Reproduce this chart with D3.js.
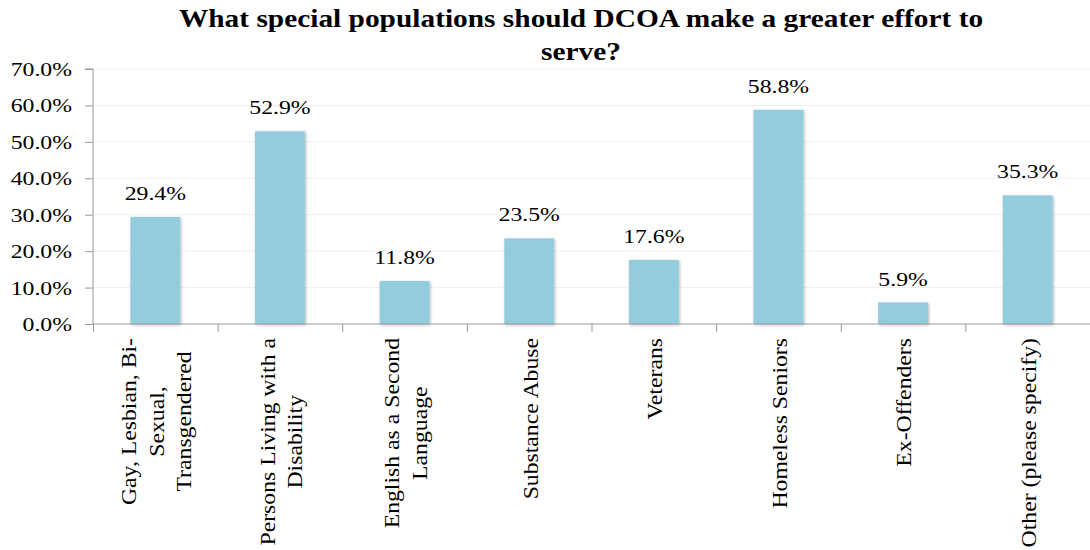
<!DOCTYPE html>
<html>
<head>
<meta charset="utf-8">
<script src="https://cdn.jsdelivr.net/npm/d3@7/dist/d3.min.js"></script>
<style>
  html, body { margin: 0; padding: 0; background: #fff; }
  svg { display: block; }
  text { font-family: "Liberation Serif", "Times New Roman", serif; fill: #000; }
</style>
</head>
<body>
<svg id="chart" width="1090" height="550"></svg>
<script>
const titleLines = ["What special populations should DCOA make a greater effort to", "serve?"];
const categories = [
  ["Gay, Lesbian, Bi-", "Sexual,", "Transgendered"],
  ["Persons Living with a", "Disability"],
  ["English as a Second", "Language"],
  ["Substance Abuse"],
  ["Veterans"],
  ["Homeless Seniors"],
  ["Ex-Offenders"],
  ["Other (please specify)"]
];
const values = [29.4, 52.9, 11.8, 23.5, 17.6, 58.8, 5.9, 35.3];
const yTicks = [0, 10, 20, 30, 40, 50, 60, 70];

const W = 1090, H = 550;
const margin = { left: 93, right: 0, top: 69, bottom: 226 };
const svg = d3.select("#chart");

const x = d3.scaleBand()
  .domain(d3.range(categories.length))
  .range([margin.left, W - margin.right])
  .paddingInner(0.6).paddingOuter(0.3);
const xTickScale = d3.scaleLinear().domain([0, categories.length]).range([margin.left, W - margin.right]);
const y = d3.scaleLinear().domain([0, 70]).range([H - margin.bottom, margin.top]);

const defs = svg.append("defs");
const f = defs.append("filter").attr("id", "shadow").attr("x", "-20%").attr("y", "-20%").attr("width", "150%").attr("height", "150%");
f.append("feGaussianBlur").attr("in", "SourceAlpha").attr("stdDeviation", 1.5).attr("result", "b");
f.append("feOffset").attr("in", "b").attr("dx", 0.8).attr("dy", 0.8).attr("result", "o");
f.append("feComponentTransfer").attr("in", "o").attr("result", "s")
  .append("feFuncA").attr("type", "linear").attr("slope", 0.3);
const m = f.append("feMerge");
m.append("feMergeNode").attr("in", "s");
m.append("feMergeNode").attr("in", "SourceGraphic");

// gridlines
svg.append("g").selectAll("line").data(yTicks.filter(d => d > 0)).join("line")
  .attr("x1", margin.left).attr("x2", W - margin.right)
  .attr("y1", d => y(d)).attr("y2", d => y(d))
  .attr("stroke", "#efefef").attr("stroke-width", 1);

// bars
svg.append("g").selectAll("rect").data(values).join("rect")
  .attr("x", (d, i) => x(i)).attr("width", x.bandwidth())
  .attr("y", d => y(d)).attr("height", d => y(0) - y(d))
  .attr("fill", "#93cddd").attr("filter", "url(#shadow)");

// y axis
const yAxis = d3.axisLeft(y).tickValues(yTicks).tickSize(8).tickPadding(0).tickFormat(d => d.toFixed(1) + "%");
const yg = svg.append("g").attr("transform", `translate(${margin.left},0)`).call(yAxis);
yg.select(".domain").attr("stroke", "#999").attr("d", `M-8,${y(70)}H0V${y(0)}`);
yg.selectAll(".tick line").attr("stroke", "#999");
yg.selectAll(".tick text").remove();
yg.selectAll(".tick").append("g").attr("transform", "translate(-21,6.5) scale(1.25,1)")
  .append("text").attr("text-anchor", "end").style("font-size", "19px")
  .text(d => d.toFixed(1) + "%");

// x axis
const xAxis = d3.axisBottom(xTickScale).tickValues(d3.range(categories.length + 1)).tickSize(8).tickFormat("");
const xg = svg.append("g").attr("transform", `translate(0,${y(0)})`).call(xAxis);
xg.select(".domain").attr("stroke", "#999").attr("d", `M${margin.left},0H${W}`);
xg.selectAll(".tick line").attr("stroke", "#999");

// value labels
svg.append("g").selectAll("g").data(values).join("g")
  .attr("transform", (d, i) => `translate(${x(i) + x.bandwidth() / 2},${y(d) - 17}) scale(1.25,1)`)
  .append("text").attr("text-anchor", "middle").style("font-size", "19px")
  .text(d => d.toFixed(1) + "%");

// category labels
const catFs = 21, catScale = 1.13, lh = 27.5, labTop = 338;
categories.forEach((lines, i) => {
  const cx = x(i) + x.bandwidth() / 2 + 1;
  const g = svg.append("g").attr("transform", `translate(${cx},${labTop}) rotate(-90) scale(${catScale},1)`);
  const t = g.append("text").attr("text-anchor", "middle").style("font-size", catFs + "px");
  const b0 = 0.35 * catFs - (lines.length - 1) / 2 * lh;
  const spans = lines.map((l, j) => t.append("tspan").attr("y", b0 + j * lh).text(l));
  const maxLen = d3.max(spans, s => s.node().getComputedTextLength());
  spans.forEach(s => s.attr("x", -maxLen / 2));
});

// title
const tg = svg.append("g").attr("transform", "translate(581,0)");
titleLines.forEach((l, j) => {
  tg.append("g").attr("transform", `translate(0,${27 + j * 33}) scale(1.13,1)`)
    .append("text").attr("text-anchor", "middle")
    .style("font-size", "26px").style("font-weight", "bold").text(l);
});
</script>
</body>
</html>
